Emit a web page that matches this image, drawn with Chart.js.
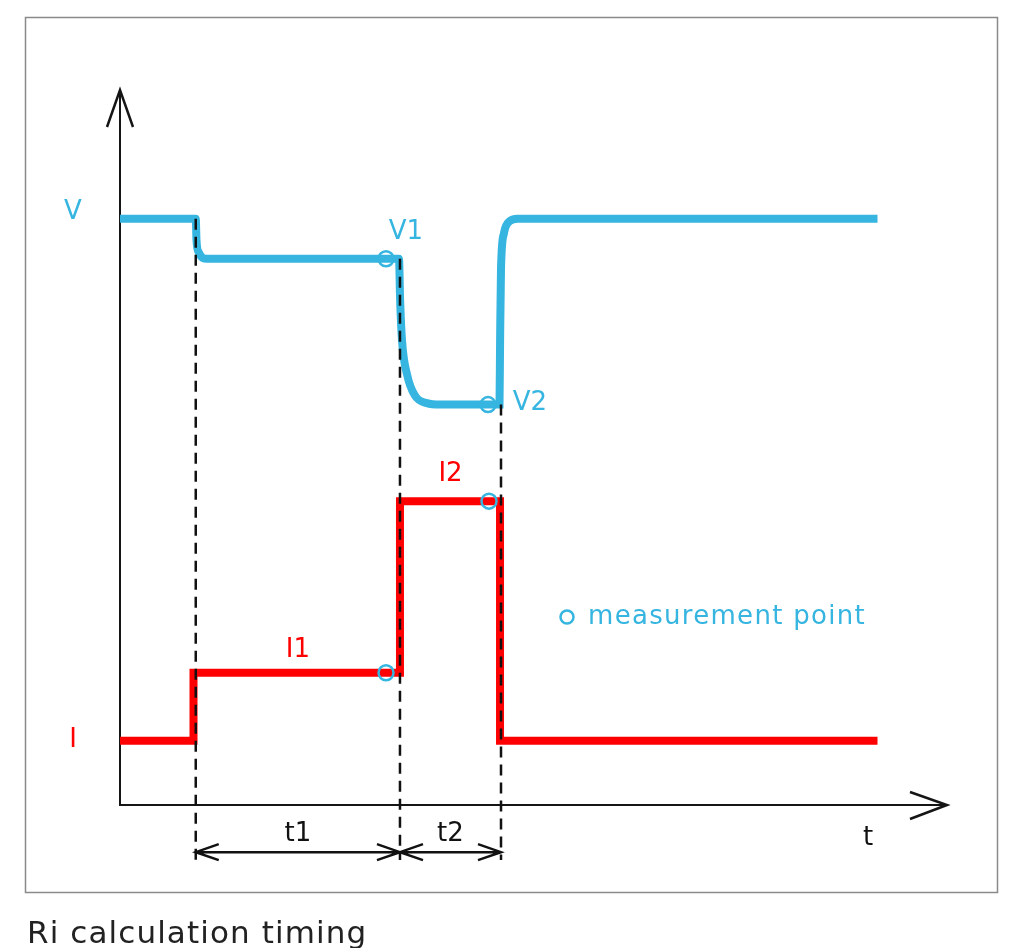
<!DOCTYPE html>
<html>
<head>
<meta charset="utf-8">
<script src="https://cdn.jsdelivr.net/npm/chart.js@4"></script>
<style>
  body { margin: 0; background: #fff; }
  #wrap { position: relative; width: 1024px; height: 948px; }
</style>
</head>
<body>
<div id="wrap"><canvas id="timing"></canvas></div>
<script>
// voltage trace (time, level)
const timeV = [0, 10.1, 10.2, 10.5, 11.6, 37.2, 37.35, 37.6, 38.3, 39.3, 40.9, 42.7, 50.6, 50.68, 50.8, 51.2, 51.9, 53, 101];
const voltage = [82, 82, 79, 77.3, 76.4, 76.4, 70.6, 65, 60.1, 57.3, 56.2, 56, 56, 65, 75, 80, 81.6, 82, 82];

// current trace
const timeI = [0, 9.8, 9.8, 37.33, 37.33, 50.67, 50.67, 101];
const current = [9, 9, 18.5, 18.5, 42.5, 42.5, 9, 9];

// dashed markers at the switching moments
const events = [10.1, 37.33, 50.8];
const eventTops = [82, 76.4, 56];
const eventBottom = -7.7;

// measurement points
const measT = [35.47, 49.07, 35.47, 49.2];
const measY = [76.4, 56, 18.5, 42.5];

const blue = "#35b5e0";
const red = "#ff0000";

const pts = (xs, ys) => xs.map((x, i) => ({ x: x, y: ys[i] }));

const dashedSets = events.map((t, i) => ({
  data: [{ x: t, y: eventTops[i] }, { x: t, y: eventBottom }],
  borderColor: "#111",
  borderWidth: 2.5,
  borderDash: [11, 7],
  pointRadius: 0,
  clip: false
}));

const extras = {
  id: "extras",
  beforeDatasetsDraw(chart) {
    const ctx = chart.ctx;
    const a = chart.chartArea;
    ctx.save();
    // frame
    ctx.strokeStyle = "#8a8a8a";
    ctx.lineWidth = 1.5;
    ctx.strokeRect(25.5, 17.5, 972, 875);
    // axes
    ctx.strokeStyle = "#151515";
    ctx.lineWidth = 2;
    ctx.beginPath();
    ctx.moveTo(a.left, a.top);
    ctx.lineTo(a.left, a.bottom);
    ctx.lineTo(a.right + 2, a.bottom);
    ctx.stroke();
    ctx.lineWidth = 2.5;
    ctx.beginPath();
    ctx.moveTo(a.left - 13, a.top + 37);
    ctx.lineTo(a.left, a.top);
    ctx.lineTo(a.left + 13, a.top + 37);
    ctx.moveTo(a.right - 35, a.bottom - 13);
    ctx.lineTo(a.right + 2, a.bottom);
    ctx.lineTo(a.right - 35, a.bottom + 14);
    ctx.stroke();
    ctx.restore();
  },
  afterDatasetsDraw(chart) {
    const ctx = chart.ctx;
    const a = chart.chartArea;
    const x = chart.scales.x, y = chart.scales.y;
    const fam = "'DejaVu Sans', sans-serif";
    ctx.save();
    ctx.textAlign = "center";
    ctx.textBaseline = "middle";
    ctx.font = "26px " + fam;

    ctx.fillStyle = blue;
    ctx.fillText("V", a.left - 47, y.getPixelForValue(82) - 6);
    ctx.fillText("V1", x.getPixelForValue(events[1]) + 6, y.getPixelForValue(76.4) - 26);
    ctx.fillText("V2", x.getPixelForValue(events[2]) + 29, y.getPixelForValue(56) - 1);

    ctx.fillStyle = red;
    ctx.fillText("I", a.left - 47, y.getPixelForValue(9));
    const x0 = x.getPixelForValue(events[0]);
    const x1 = x.getPixelForValue(events[1]);
    const x2 = x.getPixelForValue(events[2]);
    ctx.fillText("I1", (x0 + x1) / 2, y.getPixelForValue(18.5) - 22);
    ctx.fillText("I2", (x1 + x2) / 2, y.getPixelForValue(42.5) - 27);

    // t1 / t2 spans
    const ay = y.getPixelForValue(-6.6);
    ctx.strokeStyle = "#111";
    ctx.lineWidth = 2.5;
    [[x0, x1], [x1, x2]].forEach(([l, r]) => {
      ctx.beginPath();
      ctx.moveTo(l, ay); ctx.lineTo(r, ay);
      ctx.moveTo(l + 23, ay - 8); ctx.lineTo(l, ay); ctx.lineTo(l + 23, ay + 8);
      ctx.moveTo(r - 23, ay - 8); ctx.lineTo(r, ay); ctx.lineTo(r - 23, ay + 8);
      ctx.stroke();
    });
    ctx.fillStyle = "#111";
    ctx.fillText("t1", (x0 + x1) / 2, ay - 18);
    ctx.fillText("t2", (x1 + x2) / 2, ay - 18);
    ctx.fillText("t", 868, 838);

    // legend-ish note
    ctx.strokeStyle = blue;
    ctx.lineWidth = 2.5;
    ctx.beginPath();
    ctx.arc(567, 617, 6.5, 0, Math.PI * 2);
    ctx.stroke();
    ctx.fillStyle = blue;
    ctx.textAlign = "left";
    ctx.letterSpacing = "1.3px";
    ctx.fillText("measurement point", 588, 617);

    // caption
    ctx.fillStyle = "#222";
    ctx.font = "31px " + fam;
    ctx.letterSpacing = "1.1px";
    ctx.textBaseline = "alphabetic";
    ctx.fillText("Ri calculation timing", 27, 943);
    ctx.restore();
  }
};

new Chart(document.getElementById("timing"), {
  type: "line",
  data: {
    datasets: [
      {
        data: pts(measT, measY),
        showLine: false,
        pointRadius: 7.5,
        pointBorderWidth: 2.5,
        pointBorderColor: blue,
        pointBackgroundColor: "rgba(0,0,0,0)",
        clip: false
      },
      ...dashedSets,
      {
        data: pts(timeV, voltage),
        borderColor: blue,
        borderWidth: 8,
        cubicInterpolationMode: "monotone",
        pointRadius: 0
      },
      {
        data: pts(timeI, current),
        borderColor: red,
        borderWidth: 8,
        tension: 0,
        borderJoinStyle: "miter",
        pointRadius: 0
      }
    ]
  },
  options: {
    responsive: true,
    maintainAspectRatio: false,
    animation: false,
    layout: { padding: { left: 120, top: 90, right: 79, bottom: 143 } },
    plugins: { legend: { display: false }, tooltip: { enabled: false } },
    scales: {
      x: { type: "linear", min: 0, max: 110, display: false },
      y: { min: 0, max: 100, display: false }
    }
  },
  plugins: [extras]
});
</script>
</body>
</html>
